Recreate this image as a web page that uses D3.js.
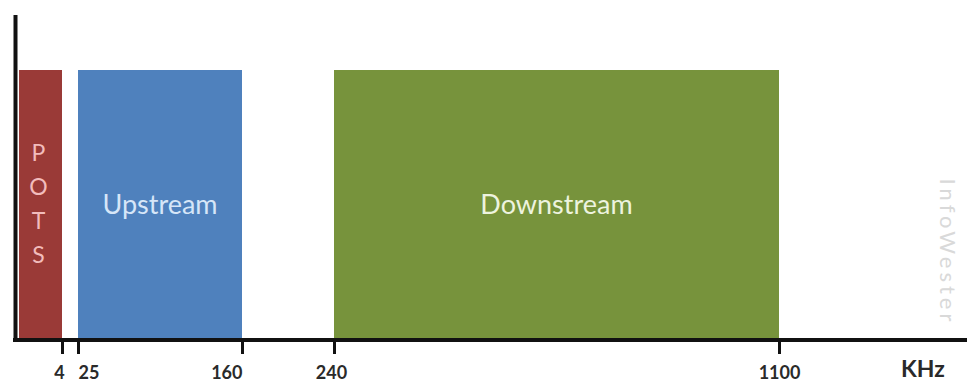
<!DOCTYPE html>
<html>
<head>
<meta charset="utf-8">
<script src="https://cdn.jsdelivr.net/npm/d3@7"></script>
<style>
  body { margin: 0; background: #fff; }
  svg { display: block; font-family: Lato, "Open Sans", sans-serif; }
</style>
</head>
<body>
<div id="chart"></div>
<script>
let width = 967;
let height = 383;

// frequency bands, in kHz
let bandNames = ["POTS", "Upstream", "Downstream"];
let bandStart = [0, 25, 240];
let bandEnd = [4, 160, 1100];
let bandColors = ["#9a3a37", "#4f81bd", "#77933c"];
let textColors = ["#f2bcbc", "#d6e6f8", "#edf3df"];

let tickValues = [4, 25, 160, 240, 1100];
let unitLabel = "KHz";
let watermark = "InfoWester";

// the axis is not to scale, so it is a piecewise linear scale
let x = d3.scaleLinear()
  .domain([0, 4, 25, 160, 240, 1100])
  .range([17, 62, 78, 242, 334, 779]);

let y = d3.scaleLinear()
  .domain([0, 1])
  .range([340, 70]);

let svg = d3.select("#chart")
  .append("svg")
  .attr("width", width)
  .attr("height", height);

// bands
svg.append("g")
  .selectAll("rect")
  .data(bandNames)
  .enter()
  .append("rect")
  .attr("x", (d, i) => x(bandStart[i]) + (i == 0 ? 2 : 0))
  .attr("width", (d, i) => x(bandEnd[i]) - x(bandStart[i]) - (i == 0 ? 2 : 0))
  .attr("y", y(1))
  .attr("height", y(0) - y(1) - 2)
  .attr("fill", (d, i) => bandColors[i]);

// band labels (POTS is written letter by letter)
bandNames.forEach(function(name, i) {
  let cx = x((bandStart[i] + bandEnd[i]) / 2);
  if (i == 0) {
    svg.append("g")
      .selectAll("text")
      .data(name.split(""))
      .enter()
      .append("text")
      .attr("x", cx - 1)
      .attr("y", (d, j) => 161 + j * 34)
      .attr("text-anchor", "middle")
      .attr("font-size", 23)
      .attr("fill", textColors[i])
      .text(d => d);
  } else {
    svg.append("text")
      .attr("x", cx)
      .attr("y", 214)
      .attr("text-anchor", "middle")
      .attr("font-size", 27)
      .attr("fill", textColors[i])
      .text(name);
  }
});

// x axis
let anchors = { 25: "start", 160: "end" };
let xAxis = svg.append("g")
  .attr("transform", "translate(0," + y(0) + ")")
  .call(d3.axisBottom(x)
    .tickValues(tickValues)
    .tickSize(14)
    .tickPadding(12)
    .tickFormat(d3.format("d")));

xAxis.select(".domain").remove();
xAxis.selectAll(".tick line")
  .attr("stroke", "#111")
  .attr("stroke-width", 3);
xAxis.selectAll(".tick text")
  .attr("font-family", "Lato, sans-serif")
  .attr("font-size", 18)
  .attr("font-weight", "bold")
  .attr("fill", "#2a2a2a")
  .attr("text-anchor", d => anchors[d] || "middle")
  .attr("dx", d => d == 4 ? -3 : (d == 240 ? -3 : 0));

// axis lines
svg.append("line")
  .attr("x1", 13).attr("x2", width)
  .attr("y1", y(0)).attr("y2", y(0))
  .attr("stroke", "#111")
  .attr("stroke-width", 4);

svg.append("line")
  .attr("x1", 15.5).attr("x2", 15.5)
  .attr("y1", 15).attr("y2", y(0) + 2)
  .attr("stroke", "#111")
  .attr("stroke-width", 4);

svg.append("text")
  .attr("x", 923)
  .attr("y", 377)
  .attr("text-anchor", "middle")
  .attr("font-size", 23)
  .attr("font-weight", "bold")
  .attr("fill", "#2a2a2a")
  .text(unitLabel);

// watermark
svg.append("text")
  .attr("transform", "translate(940,252) rotate(90)")
  .attr("text-anchor", "middle")
  .attr("font-size", 22)
  .attr("letter-spacing", 4)
  .attr("fill", "#d9d9d9")
  .text(watermark);
</script>
</body>
</html>
